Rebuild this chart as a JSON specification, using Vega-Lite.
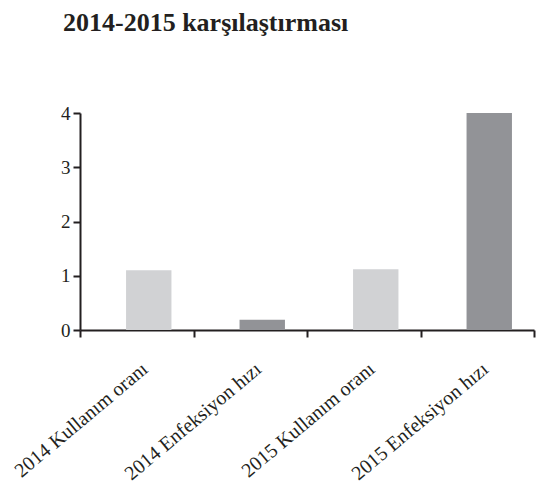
{
  "$schema": "https://vega.github.io/schema/vega-lite/v6.json",
  "width": 454,
  "height": 217,
  "autosize": {"type": "none"},
  "padding": {"left": 80, "top": 113, "right": 2, "bottom": 156},
  "background": "white",
  "title": {
    "text": "2014-2015 karşılaştırması",
    "anchor": "start",
    "frame": "group",
    "dx": -17,
    "offset": 68,
    "font": "Liberation Serif",
    "fontSize": 26,
    "fontWeight": "bold",
    "color": "#231f20"
  },
  "config": {
    "view": {"stroke": null},
    "axis": {
      "domainColor": "#231f20",
      "domainWidth": 2,
      "tickColor": "#231f20",
      "tickWidth": 2,
      "tickSize": 7,
      "labelFont": "Liberation Serif",
      "labelFontSize": 19,
      "labelColor": "#231f20",
      "grid": false,
      "title": null
    }
  },
  "data": {
    "values": [
      {"kategori": "2014 Kullanım oranı", "tur": "Kullanım oranı", "deger": 1.1},
      {"kategori": "2014 Enfeksiyon hızı", "tur": "Enfeksiyon hızı", "deger": 0.19},
      {"kategori": "2015 Kullanım oranı", "tur": "Kullanım oranı", "deger": 1.12},
      {"kategori": "2015 Enfeksiyon hızı", "tur": "Enfeksiyon hızı", "deger": 4.0}
    ]
  },
  "mark": {"type": "bar", "xOffset": 12, "width": {"band": 0.4}},
  "encoding": {
    "x": {
      "field": "kategori",
      "type": "nominal",
      "sort": null,
      "scale": {"paddingInner": 0, "paddingOuter": 0},
      "axis": {
        "tickBand": "extent",
        "labelAngle": -40,
        "labelAlign": "right",
        "labelBaseline": "middle",
        "labelPadding": 29,
        "labelOffset": 8,
        "labelFontSize": 20,
        "labelLimit": 0
      }
    },
    "y": {
      "field": "deger",
      "type": "quantitative",
      "scale": {"domain": [0, 4], "nice": false},
      "axis": {"values": [0, 1, 2, 3, 4], "labelPadding": 3}
    },
    "color": {
      "field": "tur",
      "type": "nominal",
      "scale": {"domain": ["Kullanım oranı", "Enfeksiyon hızı"], "range": ["#d1d2d4", "#929397"]},
      "legend": null
    }
  }
}
